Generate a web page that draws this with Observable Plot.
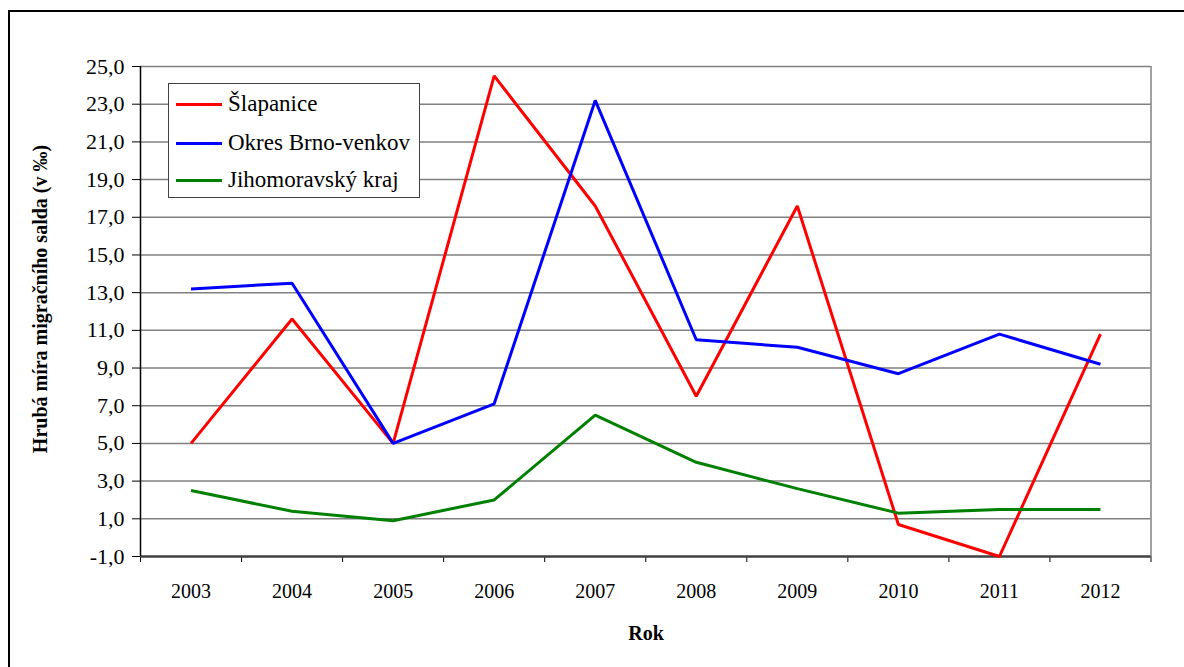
<!DOCTYPE html>
<html>
<head>
<meta charset="utf-8">
<script src="https://cdn.jsdelivr.net/npm/d3@7"></script>
<script src="https://cdn.jsdelivr.net/npm/@observablehq/plot@0.6"></script>
<style>
  html, body { margin: 0; padding: 0; background: #fff; overflow: hidden; }
  #wrap { position: relative; width: 1184px; height: 667px; font-family: 'Liberation Serif', Tinos, 'Times New Roman', Times, 'DejaVu Serif', serif; color: #000; }
  #frame { position: absolute; left: 8px; top: 10px; width: 1200px; height: 700px; border: 2px solid #000; box-sizing: border-box; }
  #chart { position: absolute; left: 0; top: 0; }
  #ytitle { position: absolute; left: 40px; top: 299px; transform: translate(-50%, -50%) rotate(-90deg); font-weight: bold; font-size: 20px; white-space: nowrap; }
  #xtitle { position: absolute; left: 646px; top: 633px; transform: translate(-50%, -50%); font-weight: bold; font-size: 20px; white-space: nowrap; }
  #legend { position: absolute; left: 168px; top: 83px; width: 252px; height: 115px; border: 1px solid #404040; background: #fff; box-sizing: border-box; }
  .item { position: absolute; left: 7px; height: 26px; display: flex; align-items: center; font-size: 23px; white-space: nowrap; }
  .swatch { width: 46px; height: 3px; margin-right: 6px; }
  #chart svg text { font-family: 'Liberation Serif', Tinos, 'Times New Roman', Times, 'DejaVu Serif', serif; }
</style>
</head>
<body>
<div id="wrap">
  <div id="frame"></div>
  <div id="chart"></div>
  <div id="ytitle"></div>
  <div id="xtitle"></div>
  <div id="legend"></div>
</div>
<script>
const years = [2003, 2004, 2005, 2006, 2007, 2008, 2009, 2010, 2011, 2012];
const seriesNames = ["Šlapanice", "Okres Brno-venkov", "Jihomoravský kraj"];
const seriesColors = ["#ff0000", "#0000ff", "#008000"];
const slapanice = [5.0, 11.6, 5.0, 24.5, 17.6, 7.5, 17.6, 0.7, -1.0, 10.8];
const brnoVenkov = [13.2, 13.5, 5.0, 7.1, 23.2, 10.5, 10.1, 8.7, 10.8, 9.2];
const jihomoravsky = [2.5, 1.4, 0.9, 2.0, 6.5, 4.0, 2.6, 1.3, 1.5, 1.5];
const yTicks = [-1, 1, 3, 5, 7, 9, 11, 13, 15, 17, 19, 21, 23, 25];
const yTitle = "Hrubá míra migračního salda (v ‰)";
const xTitle = "Rok";

const seriesValues = [slapanice, brnoVenkov, jihomoravsky];
const rows = [];
seriesNames.forEach((name, s) => {
  years.forEach((yr, i) => rows.push({series: name, year: yr, value: seriesValues[s][i]}));
});
const xMin = years[0] - 0.5, xMax = years[years.length - 1] + 0.5;
const boundaries = d3.range(years.length + 1).map(i => xMin + i);
const fmt = d => d.toFixed(1).replace(".", ",");
const serif = "'Liberation Serif', Tinos, 'Times New Roman', Times, 'DejaVu Serif', serif";

const chart = Plot.plot({
  width: 1184,
  height: 667,
  marginLeft: 140,
  marginRight: 33.5,
  marginTop: 66,
  marginBottom: 111,
  style: {fontFamily: serif, fontSize: "20px", color: "#000", background: "transparent", overflow: "visible"},
  x: {domain: [xMin, xMax], axis: null},
  y: {domain: [yTicks[0], yTicks[yTicks.length - 1]], axis: null},
  color: {domain: seriesNames, range: seriesColors},
  marks: [
    Plot.ruleY(yTicks.slice(1), {stroke: "#808080", strokeWidth: 1.5}),
    Plot.ruleX([xMax], {stroke: "#808080", strokeWidth: 1.5}),
    Plot.axisY({ticks: yTicks, tickFormat: fmt, tickSize: 8, tickPadding: 8, stroke: "#000", fontSize: 22, fontFamily: serif, label: null}),
    Plot.axisX({ticks: boundaries, tickFormat: () => "", tickSize: 6, tickPadding: 0, stroke: "#000", label: null}),
    Plot.axisX({ticks: years, tickFormat: d => String(d), tickSize: 0, tickPadding: 27, fontSize: 20, fontFamily: serif, label: null}),
    Plot.ruleY([yTicks[0]], {stroke: "#404040", strokeWidth: 2.5}),
    Plot.ruleX([xMin], {stroke: "#000", strokeWidth: 1.5}),
    Plot.line(rows, {x: "year", y: "value", z: "series", stroke: "series", strokeWidth: 3, strokeLinejoin: "miter", strokeLinecap: "butt"})
  ]
});
document.getElementById("chart").appendChild(chart);
document.getElementById("ytitle").textContent = yTitle;
document.getElementById("xtitle").textContent = xTitle;

const legend = document.getElementById("legend");
const itemTops = [7, 46, 83];
seriesNames.forEach((name, i) => {
  const it = document.createElement("div");
  it.className = "item";
  it.style.top = itemTops[i] + "px";
  const sw = document.createElement("div");
  sw.className = "swatch";
  sw.style.background = seriesColors[i];
  const tx = document.createElement("span");
  tx.textContent = name;
  it.appendChild(sw);
  it.appendChild(tx);
  legend.appendChild(it);
});
</script>
</body>
</html>
